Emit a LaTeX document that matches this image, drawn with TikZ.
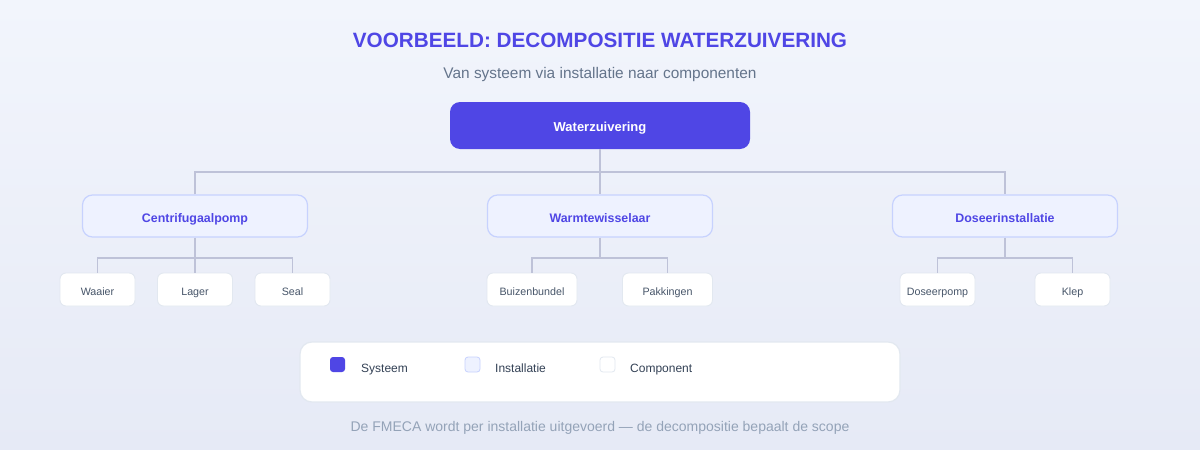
\documentclass[tikz,border=0pt]{standalone}
\usepackage{fontspec}
\setmainfont{Liberation Sans}
\usetikzlibrary{positioning}
\definecolor{primary}{HTML}{4F46E5}
\definecolor{instfill}{HTML}{EEF2FF}
\definecolor{instdraw}{HTML}{C7D2FE}
\definecolor{compdraw}{HTML}{E2E8F0}
\definecolor{connc}{HTML}{BEC2D8}
\definecolor{subc}{HTML}{64748B}
\definecolor{compt}{HTML}{475569}
\definecolor{legt}{HTML}{334155}
\definecolor{footc}{HTML}{94A3B8}
\definecolor{bgA}{HTML}{F2F5FC}
\definecolor{bgB}{HTML}{E6EAF6}
\tikzset{
  sysbox/.style={draw=none, fill=primary, rounded corners=10pt, minimum width=300pt, minimum height=47pt, text=white, font=\fontsize{13}{15}\selectfont\bfseries, inner sep=0pt, text height=1.2em, text depth=0pt},
  instbox/.style={draw=instdraw, line width=1.2pt, fill=instfill, rounded corners=10pt, minimum width=225pt, minimum height=42pt, text=primary, font=\fontsize{12.4}{15}\selectfont\bfseries, inner sep=0pt, text height=1.28em, text depth=0pt},
  compbox/.style={draw=compdraw, line width=0.9pt, fill=white, rounded corners=6pt, minimum width=75pt, minimum height=33pt, text=compt, font=\fontsize{10.7}{12}\selectfont, inner sep=0pt, text height=1.2em, text depth=0pt},
  conn/.style={draw=connc, line width=1.8pt},
  swatch/.style={rounded corners=3pt, minimum width=15pt, minimum height=15pt, inner sep=0pt},
  legtext/.style={anchor=base west, text=legt, font=\fontsize{12}{14}\selectfont, inner sep=0pt},
}
\begin{document}
\begin{tikzpicture}[x=1pt,y=-1pt]
\useasboundingbox (0,0) rectangle (1200,450);
\shade[top color=bgA, bottom color=bgB] (0,0) rectangle (1200,450);

\node[anchor=base, inner sep=0pt, text=primary, font=\fontsize{20.7}{24}\selectfont\bfseries] (title) at (600,47) {VOORBEELD: DECOMPOSITIE WATERZUIVERING};
\node[anchor=base, inner sep=0pt, text=subc, font=\fontsize{15.4}{18}\selectfont] (sub) at (600,78) {Van systeem via installatie naar componenten};

\node[sysbox] (root) at (600,125.5) {Waterzuivering};

\node[instbox] (i1) at (195,216) {Centrifugaalpomp};
\node[instbox] (i2) at (600,216) {Warmtewisselaar};
\node[instbox] (i3) at (1005,216) {Doseerinstallatie};

\node[compbox] (c1) at (97.5,289.5) {Waaier};
\node[compbox] (c2) at (195,289.5) {Lager};
\node[compbox] (c3) at (292.5,289.5) {Seal};
\node[compbox, minimum width=90pt] (c4) at (532,289.5) {Buizenbundel};
\node[compbox, minimum width=90pt] (c5) at (667.5,289.5) {Pakkingen};
\node[compbox] (c6) at (937.5,289.5) {Doseerpomp};
\node[compbox] (c7) at (1072.5,289.5) {Klep};

\coordinate (bus) at (0,172);
\coordinate (sbus) at (0,258);

\draw[conn] (root.south) -- (root.south |- bus);
\draw[conn] (i1.north) |- (bus -| i3.north) -- (i3.north);
\draw[conn] (root.south |- bus) -- (i2.north);

\draw[conn] (i1.south) -- (i1.south |- sbus);
\draw[conn] (c1.north) |- (sbus -| c3.north) -- (c3.north);
\draw[conn] (i1.south |- sbus) -- (c2.north);

\draw[conn] (i2.south) -- (i2.south |- sbus);
\draw[conn] (c4.north) |- (sbus -| c5.north) -- (c5.north);

\draw[conn] (i3.south) -- (i3.south |- sbus);
\draw[conn] (c6.north) |- (sbus -| c7.north) -- (c7.north);

% legend
\node[draw=compdraw, line width=1.2pt, fill=white, rounded corners=12pt, minimum width=600pt, minimum height=60pt, inner sep=0pt] (legend) at (600,372) {};
\node[swatch, fill=primary] (s1) at (337.5,364.5) {};
\node[legtext] (l1) at (361,372) {Systeem};
\node[swatch, fill=instfill, draw=instdraw, line width=0.8pt] (s2) at (472.5,364.5) {};
\node[legtext] (l2) at (495,372) {Installatie};
\node[swatch, fill=white, draw=compdraw, line width=0.8pt] (s3) at (607.5,364.5) {};
\node[legtext] (l3) at (630,372) {Component};

\node[anchor=base, inner sep=0pt, text=footc, font=\fontsize{14}{16}\selectfont] (foot) at (600,431) {De FMECA wordt per installatie uitgevoerd — de decompositie bepaalt de scope};
\end{tikzpicture}
\end{document}
